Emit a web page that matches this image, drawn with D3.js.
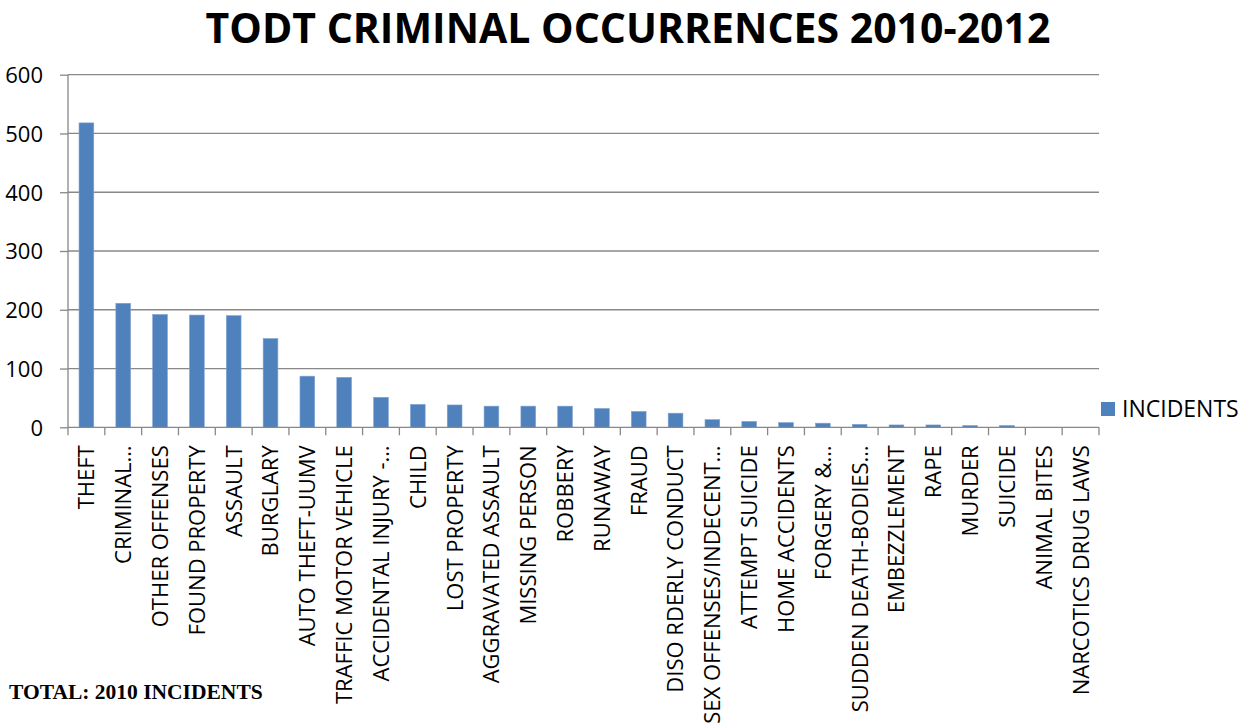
<!DOCTYPE html>
<html>
<head>
<meta charset="utf-8">
<script src="https://cdn.jsdelivr.net/npm/d3@7"></script>
<style>
  body { margin: 0; background: #fff; }
  svg { display: block; }
  .axis text { font-family: "Open Sans", sans-serif; fill: #000; }
</style>
</head>
<body>
<svg width="1249" height="723"></svg>
<script>
var categories = ["THEFT", "CRIMINAL…", "OTHER OFFENSES", "FOUND PROPERTY", "ASSAULT", "BURGLARY",
    "AUTO THEFT-UUMV", "TRAFFIC MOTOR VEHICLE", "ACCIDENTAL INJURY -…", "CHILD", "LOST PROPERTY",
    "AGGRAVATED ASSAULT", "MISSING PERSON", "ROBBERY", "RUNAWAY", "FRAUD", "DISO RDERLY CONDUCT",
    "SEX OFFENSES/INDECENT…", "ATTEMPT SUICIDE", "HOME ACCIDENTS", "FORGERY &…", "SUDDEN DEATH-BODIES…",
    "EMBEZZLEMENT", "RAPE", "MURDER", "SUICIDE", "ANIMAL BITES", "NARCOTICS DRUG LAWS"];
var incidents = [518, 211, 192, 191, 190, 151, 87, 85, 51, 39, 38, 36, 36, 36, 32, 27, 24,
    13, 10, 8, 7, 5, 4, 4, 3, 3, 0, 0];
var yTicks = [0, 100, 200, 300, 400, 500, 600];
var seriesName = "INCIDENTS";

var svg = d3.select("svg"),
    margin = { top: 74.7, left: 68, right: 150, bottom: 295.7 },
    width = +svg.attr("width") - margin.left - margin.right,
    height = +svg.attr("height") - margin.top - margin.bottom,
    g = svg.append("g").attr("transform", "translate(" + margin.left + "," + margin.top + ")");

var barColor = "#4F81BD",
    gridColor = "#888888";

// bars sit in the middle 40% of each category slot
var x = d3.scaleBand().domain(categories).range([0, width]).paddingInner(0.6).paddingOuter(0.3);
var xCat = d3.scaleBand().domain(categories).range([0, width]).padding(0);
var y = d3.scaleLinear().domain([0, 600]).range([height, 0]);

/* ==================== GRIDLINES ==================== */
g.append("g")
    .selectAll("line")
    .data(yTicks.filter(function(d) { return d > 0; }))
    .enter().append("line")
    .attr("x1", 0).attr("x2", width)
    .attr("y1", function(d) { return y(d); })
    .attr("y2", function(d) { return y(d); })
    .attr("stroke", gridColor).attr("stroke-width", 1.3);

/* ==================== BARS ==================== */
g.append("g")
    .selectAll("rect")
    .data(categories)
    .enter().append("rect")
    .attr("x", function(d) { return x(d); })
    .attr("y", function(d, i) { return y(incidents[i]); })
    .attr("width", x.bandwidth())
    .attr("height", function(d, i) { return height - y(incidents[i]); })
    .attr("fill", barColor)
    .attr("stroke", "#7FA3D3").attr("stroke-width", 0.6);

/* ==================== Y AXIS ==================== */
var yAxis = g.append("g")
    .attr("class", "axis")
    .call(d3.axisLeft(y).tickValues(yTicks).tickSize(8).tickPadding(17));
yAxis.selectAll("line, path").attr("stroke", gridColor).attr("stroke-width", 1.3);
yAxis.select(".domain").attr("d", "M0," + height + "V0");
yAxis.selectAll("text").style("font-size", "22px").attr("dy", "0.36em");

/* ==================== X AXIS ==================== */
var xAxis = g.append("g").attr("transform", "translate(0," + height + ")");
xAxis.append("line")
    .attr("x1", 0).attr("x2", width)
    .attr("stroke", gridColor).attr("stroke-width", 1.3);
xAxis.selectAll(".tick")
    .data(categories.concat([null]))
    .enter().append("line")
    .attr("x1", function(d, i) { return i * xCat.step(); })
    .attr("x2", function(d, i) { return i * xCat.step(); })
    .attr("y1", 0).attr("y2", 8)
    .attr("stroke", gridColor).attr("stroke-width", 1.3);

xAxis.selectAll("text")
    .data(categories)
    .enter().append("text")
    .attr("transform", function(d) {
        return "translate(" + (xCat(d) + xCat.bandwidth() / 2) + ",18) rotate(-90)";
    })
    .attr("text-anchor", "end")
    .attr("dy", "0.36em")
    .style("font-family", "Open Sans, sans-serif")
    .style("font-size", "22px")
    .text(function(d) { return d; });

/* ==================== LEGEND ==================== */
var legend = svg.append("g").attr("transform", "translate(1101,402)");
legend.append("rect")
    .attr("width", 14).attr("height", 14)
    .attr("fill", barColor);
legend.append("text")
    .attr("x", 21).attr("y", 7).attr("dy", "0.36em")
    .style("font-family", "Open Sans, sans-serif")
    .style("font-size", "23px")
    .text(seriesName);

/* ==================== TITLE & NOTE ==================== */
svg.append("text")
    .attr("x", 628).attr("y", 43)
    .attr("text-anchor", "middle")
    .style("font-family", "Open Sans, sans-serif")
    .style("font-weight", "bold")
    .style("font-size", "41px")
    .text("TODT CRIMINAL OCCURRENCES 2010-2012");

svg.append("text")
    .attr("x", 9).attr("y", 699)
    .style("font-family", "Liberation Serif, Times New Roman, serif")
    .style("font-weight", "bold")
    .style("font-size", "21.5px")
    .text("TOTAL: 2010 INCIDENTS");
</script>
</body>
</html>
